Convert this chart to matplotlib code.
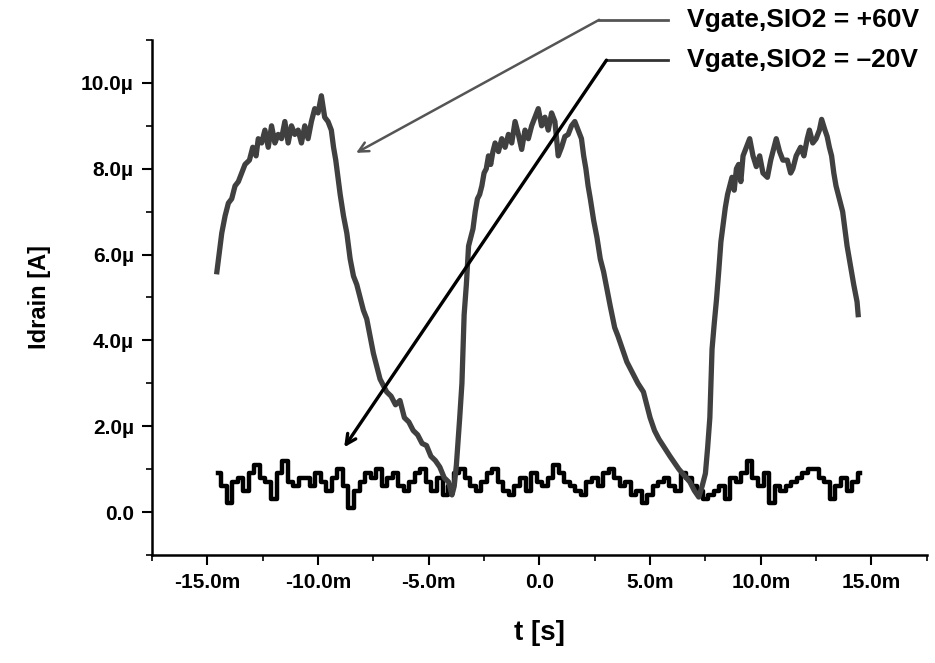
import numpy as np
import matplotlib.pyplot as plt
from matplotlib.ticker import FixedLocator, MultipleLocator

plt.rcParams['font.family'] = ['Liberation Sans', 'DejaVu Sans']

# +60V trace: time in ms, drain current in uA
t_pos = [-14.57, -14.45, -14.35, -14.2, -14.05, -13.9, -13.75, -13.6, -13.45, -13.3,
         -13.1, -12.95, -12.8, -12.7, -12.55, -12.4, -12.25, -12.1, -11.95, -11.8,
         -11.65, -11.5, -11.35, -11.2, -11.05, -10.9, -10.75, -10.6, -10.45, -10.3,
         -10.15, -10.0, -9.85, -9.7, -9.55, -9.4, -9.3, -9.2, -9.1, -9.0,
         -8.85, -8.7, -8.55, -8.4, -8.25, -8.1, -7.95, -7.8, -7.65, -7.5,
         -7.35, -7.2, -7.05, -6.9, -6.7, -6.5, -6.3, -6.1, -5.9, -5.7,
         -5.5, -5.3, -5.1, -4.9, -4.7, -4.5, -4.3, -4.1, -3.95, -3.85,
         -3.75, -3.6, -3.5, -3.4, -3.3, -3.2, -3.1, -3.0, -2.9, -2.8,
         -2.7, -2.6, -2.5, -2.4, -2.3, -2.2, -2.1, -2.0, -1.85, -1.7,
         -1.55, -1.4, -1.25, -1.1, -0.95, -0.8, -0.65, -0.5, -0.35, -0.2,
         -0.05, 0.1, 0.25, 0.4, 0.55, 0.7, 0.85, 1.0, 1.15, 1.3,
         1.45, 1.6, 1.75, 1.9, 2.0, 2.1, 2.2, 2.3, 2.45, 2.6,
         2.75, 2.9, 3.05, 3.2, 3.4, 3.55, 3.75, 3.95, 4.2, 4.45,
         4.7, 4.85, 5.0, 5.2, 5.4, 5.65, 5.9, 6.1, 6.3, 6.55,
         6.8, 7.0, 7.2, 7.35, 7.5, 7.6, 7.7, 7.75, 7.8, 7.9,
         8.0, 8.1, 8.2, 8.3, 8.4, 8.5, 8.6, 8.7, 8.8, 8.9,
         9.0, 9.1, 9.2, 9.35, 9.5, 9.65, 9.8, 9.95, 10.1, 10.3,
         10.45, 10.6, 10.7, 10.85, 11.0, 11.2, 11.35, 11.45, 11.6, 11.8,
         11.95, 12.1, 12.2, 12.35, 12.5, 12.65, 12.75, 12.9, 13.0, 13.1,
         13.2, 13.3, 13.4, 13.55, 13.7, 13.8, 13.9, 14.0, 14.1, 14.2,
         14.35, 14.4]
i_pos = [5.6, 6.1, 6.5, 6.9, 7.2, 7.3, 7.6, 7.7, 7.9, 8.1,
         8.2, 8.5, 8.3, 8.7, 8.6, 8.9, 8.5, 9.0, 8.6, 8.8,
         8.7, 9.1, 8.6, 9.0, 8.8, 8.9, 8.6, 9.0, 8.7, 9.1,
         9.4, 9.3, 9.7, 9.2, 9.1, 8.9, 8.5, 8.2, 7.8, 7.4,
         6.9, 6.5, 5.9, 5.5, 5.3, 5.0, 4.7, 4.5, 4.1, 3.7,
         3.4, 3.1, 2.95, 2.8, 2.7, 2.5, 2.6, 2.2, 2.1, 1.9,
         1.8, 1.6, 1.55, 1.3, 1.2, 1.05, 0.8, 0.7, 0.4, 0.6,
         1.1, 2.2, 3.0, 4.6, 5.3, 6.2, 6.4, 6.6, 7.0, 7.3,
         7.4, 7.6, 7.9, 8.0, 8.3, 8.1, 8.4, 8.6, 8.4, 8.7,
         8.5, 8.8, 8.6, 9.1, 8.8, 8.45, 8.9, 8.7, 9.0, 9.2,
         9.4, 9.0, 9.2, 8.9, 9.3, 9.1, 8.3, 8.5, 8.75, 8.8,
         9.0, 9.1, 8.9, 8.7, 8.3, 8.0, 7.6, 7.3, 6.8, 6.4,
         5.9, 5.6, 5.2, 4.8, 4.3, 4.1, 3.8, 3.5, 3.25, 3.0,
         2.8, 2.5, 2.2, 1.9, 1.7, 1.5, 1.3, 1.15, 1.0, 0.85,
         0.7, 0.5, 0.35, 0.6, 0.9, 1.5, 2.2, 3.0, 3.8, 4.4,
         4.95, 5.6, 6.3, 6.7, 7.1, 7.4, 7.6, 7.8, 7.5, 8.0,
         8.1, 7.7, 8.3, 8.5, 8.7, 8.3, 8.05, 8.3, 7.9, 7.8,
         8.2, 8.5, 8.7, 8.4, 8.2, 8.2, 7.9, 8.0, 8.3, 8.5,
         8.3, 8.7, 8.9, 8.6, 8.7, 8.9, 9.15, 8.9, 8.75, 8.5,
         8.3, 7.9, 7.6, 7.3, 7.0, 6.6, 6.2, 5.9, 5.6, 5.3,
         4.9, 4.6]

# -20V trace: sampled evenly from -14.5 ms to 14.5 ms, current in uA
i_neg = [0.9, 0.6, 0.2, 0.7, 0.8, 0.5, 0.9, 1.1, 0.8, 0.7,
         0.3, 0.9, 1.2, 0.7, 0.6, 0.8, 0.8, 0.6, 0.9, 0.7,
         0.5, 0.8, 1.0, 0.6, 0.1, 0.5, 0.7, 0.9, 0.8, 1.0,
         0.6, 0.8, 0.9, 0.6, 0.5, 0.7, 0.9, 1.0, 0.7, 0.5,
         0.8, 0.4, 0.6, 0.9, 1.0, 0.8, 0.6, 0.5, 0.7, 0.9,
         1.0, 0.7, 0.5, 0.4, 0.6, 0.8, 0.5, 0.9, 0.7, 0.6,
         0.8, 1.1, 0.9, 0.7, 0.6, 0.5, 0.4, 0.7, 0.8, 0.6,
         0.9, 1.0, 0.8, 0.6, 0.7, 0.4, 0.5, 0.2, 0.4, 0.6,
         0.7, 0.8, 0.6, 0.5, 0.9, 0.8, 0.6, 0.5, 0.3, 0.4,
         0.5, 0.6, 0.3, 0.8, 0.7, 0.9, 1.2, 0.8, 0.6, 0.9,
         0.2, 0.6, 0.5, 0.6, 0.7, 0.8, 0.9, 1.0, 1.0, 0.8,
         0.7, 0.3, 0.6, 0.8, 0.5, 0.7, 0.9]
t_neg = np.linspace(-14.5, 14.5, len(i_neg))

xticks = [-15, -10, -5, 0, 5, 10, 15]
xlabels = ['-15.0m', '-10.0m', '-5.0m', '0.0', '5.0m', '10.0m', '15.0m']
yticks = [0, 2, 4, 6, 8, 10]
ylabels = ['0.0', '2.0\u00b5', '4.0\u00b5', '6.0\u00b5', '8.0\u00b5', '10.0\u00b5']

fig = plt.figure(figsize=(9.35, 6.63), dpi=100)
ax = fig.add_axes([0.1626, 0.1629, 0.8286, 0.7768])

ax.plot(t_neg, i_neg, color='black', lw=3.2, drawstyle='steps-mid', zorder=2)
ax.plot(t_pos, i_pos, color='#404040', lw=3.8, zorder=3)

ax.set_xlim(-17.5, 17.5)
ax.set_ylim(-1, 11)
ax.xaxis.set_major_locator(FixedLocator(xticks))
ax.set_xticklabels(xlabels)
ax.xaxis.set_minor_locator(MultipleLocator(2.5))
ax.yaxis.set_major_locator(FixedLocator(yticks))
ax.set_yticklabels(ylabels)
ax.yaxis.set_minor_locator(MultipleLocator(1))
ax.tick_params(which='major', direction='out', length=7, width=1.5, labelsize=15, pad=6)
ax.tick_params(which='minor', direction='out', length=4, width=1.2)
for lab in ax.get_xticklabels() + ax.get_yticklabels():
    lab.set_fontweight('bold')

for s in ['top', 'right']:
    ax.spines[s].set_visible(False)
for s in ['left', 'bottom']:
    ax.spines[s].set_linewidth(1.8)

ax.set_xlabel('t [s]', fontsize=20, fontweight='bold', labelpad=20)
ax.set_ylabel('Idrain [A]', fontsize=17, fontweight='bold', labelpad=22)

# legend-like labels with arrows pointing at the traces
ax.plot([2.7, 5.8], [11.47, 11.47], color='#555555', lw=2, clip_on=False)
ax.annotate('', xy=(-8.28, 8.37), xytext=(2.7, 11.47), annotation_clip=False,
            arrowprops=dict(arrowstyle='->,head_length=0.7,head_width=0.35',
                            color='#555555', lw=1.8, shrinkA=0, shrinkB=0))
ax.text(6.65, 11.47, 'Vgate,SIO2 = +60V', fontsize=19, fontweight='bold',
        va='center', ha='left', clip_on=False)

ax.plot([3.03, 5.8], [10.53, 10.53], color='#333333', lw=2, clip_on=False)
ax.annotate('', xy=(-8.82, 1.51), xytext=(3.03, 10.53), annotation_clip=False,
            arrowprops=dict(arrowstyle='->,head_length=0.7,head_width=0.35',
                            color='black', lw=2.4, shrinkA=0, shrinkB=0))
ax.text(6.65, 10.53, 'Vgate,SIO2 = \u201320V', fontsize=19, fontweight='bold',
        va='center', ha='left', clip_on=False)

fig.savefig('out.png', dpi=100)
